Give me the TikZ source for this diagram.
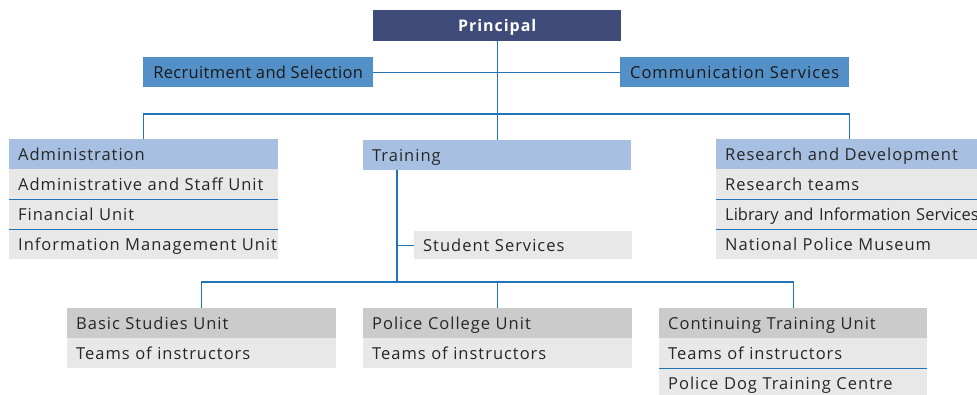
\documentclass[tikz,border=0pt]{standalone}
\usepackage{fontspec}
\setmainfont{Open Sans}[LetterSpace=6]
\usetikzlibrary{positioning}
\definecolor{navy}{HTML}{3F4C7A}
\definecolor{midblue}{HTML}{5490C8}
\definecolor{paleblue}{HTML}{A7BFE0}
\definecolor{midgrey}{HTML}{CBCBCB}
\definecolor{palegrey}{HTML}{E8E8E8}
\definecolor{linkblue}{HTML}{2074BA}
\tikzset{
  every node/.style={font=\fontsize{16.5}{18}\selectfont, text height=13pt, text depth=1pt},
  cell/.style={anchor=north west, inner xsep=9pt, inner ysep=0pt, minimum height=30pt,
    align=left, text=black!85,
    execute at begin node=\hbox to 0pt\bgroup, execute at end node=\hss\egroup},
  head/.style={cell, fill=paleblue},
  unithead/.style={cell, fill=midgrey},
  item/.style={cell, fill=palegrey},
  staff/.style={anchor=north west, fill=midblue, inner sep=0pt, minimum height=30pt, minimum width=230pt, text=black!90},
  link/.style={draw=linkblue, line width=1.4pt},
  sep/.style={draw=linkblue, line width=1.4pt}
}
\begin{document}
\begin{tikzpicture}[x=1pt,y=1pt]
\useasboundingbox (0,0) rectangle (977,-394);

% top level
\node[anchor=north west, fill=navy, text=white, inner sep=0pt, minimum width=248pt, minimum height=31pt, font=\fontsize{16}{18}\selectfont\bfseries] (prn) at (373,-10) {Principal};
\node[staff] (rec) at (143,-57) {\addfontfeature{LetterSpace=2}Recruitment and Selection};
\node[staff, minimum width=229pt] (com) at (620,-57) {Communication Services};

% departments
\node[head, text width=251pt] (adm) at (9,-139) {Administration};
\node[item, text width=251pt] (adm1) at (9,-169) {Administrative and Staff Unit};
\node[item, text width=251pt] (adm2) at (9,-199) {Financial Unit};
\node[item, text width=251pt] (adm3) at (9,-229) {Information Management Unit};

\node[head, text width=250pt] (trn) at (363,-140) {Training};
\node[item, text width=200pt, minimum height=28pt] (sts) at (414,-231) {Student Services};

\node[head, text width=251pt] (rnd) at (716,-139) {Research and Development};
\node[item, text width=251pt] (rnd1) at (716,-169) {Research teams};
\node[item, text width=251pt] (rnd2) at (716,-199) {\addfontfeature{LetterSpace=0}Library and Information Services};
\node[item, text width=251pt] (rnd3) at (716,-229) {National Police Museum};

% training units
\node[unithead, text width=251pt] (bsu) at (67,-308) {Basic Studies Unit};
\node[item, text width=251pt] (bsu1) at (67,-338) {Teams of instructors};
\node[unithead, text width=251pt] (pcu) at (363,-308) {Police College Unit};
\node[item, text width=251pt] (pcu1) at (363,-338) {Teams of instructors};
\node[unithead, text width=250pt] (ctu) at (659,-308) {Continuing Training Unit};
\node[item, text width=250pt] (ctu1) at (659,-338) {Teams of instructors};
\node[item, text width=250pt] (ctu2) at (659,-368) {Police Dog Training Centre};

% separators between listed units
\draw[sep] (adm1.south west) -- (adm1.south east);
\draw[sep] (adm2.south west) -- (adm2.south east);
\draw[sep] (rnd1.south west) -- (rnd1.south east);
\draw[sep] (rnd2.south west) -- (rnd2.south east);
\draw[sep] (ctu1.south west) -- (ctu1.south east);

% connectors
\draw[link] (prn.south) -- (trn.north);
\draw[link] (rec.east) -- (com.west);
\coordinate (topbus) at (497,-114);
\draw[link] (adm.north) |- (topbus) -| ([xshift=-1.5pt]rnd.north);
\coordinate (stem) at ([xshift=34pt]trn.south west);
\coordinate (lowbus) at (397,-282);
\draw[link] (stem) -- (lowbus);
\draw[link] (sts.west) -- (sts.west -| stem);
\draw[link] (bsu.north) |- (lowbus) -| (ctu.north);
\draw[link] (pcu.north) -- (pcu.north |- lowbus);
\end{tikzpicture}
\end{document}
